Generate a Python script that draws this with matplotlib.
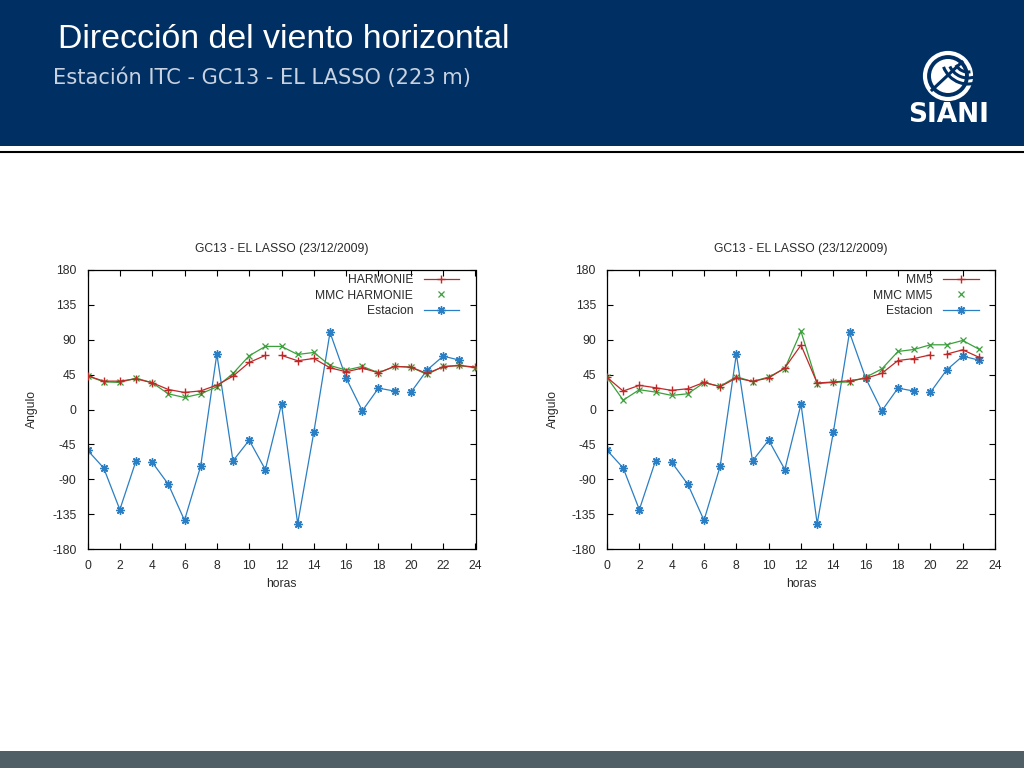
import numpy as np
import matplotlib
matplotlib.use("Agg")
import matplotlib.pyplot as plt
from matplotlib.lines import Line2D
from matplotlib.patches import Rectangle, Circle, Arc

# ---------------- data ----------------
hours_harmonie = list(range(25))
harmonie = [43.5, 36.6, 36.6, 39.6, 34.5, 25.8, 22.0, 24.0, 31.4, 43.0, 60.7, 69.8,
            69.8, 62.9, 65.9, 53.8, 48.7, 53.4, 47.4, 55.6, 54.7, 46.5, 55.1, 56.8, 54.7]
mmc_harmonie = [43.5, 35.7, 34.9, 40.5, 34.5, 20.2, 15.5, 20.2, 29.3, 46.5, 69.3, 81.4,
                81.4, 71.0, 73.6, 56.8, 50.8, 55.6, 47.4, 55.6, 54.7, 45.2, 55.6, 56.8, 53.8]
harmonie_gaps = [11]          # no line segment drawn after these hours

hours_mm5 = list(range(24))
mm5 = [41.5, 23.8, 31.2, 28.1, 24.7, 26.8, 35.0, 29.4, 40.7, 36.3, 40.7, 53.7,
       83.1, 34.2, 35.5, 37.2, 40.2, 46.7, 63.2, 65.8, 70.5, 71.4, 77.0, 67.5]
mmc_mm5 = [41.5, 12.1, 25.5, 22.5, 18.2, 20.3, 34.6, 29.9, 42.4, 35.9, 42.0, 52.8,
           100.8, 33.3, 35.0, 35.5, 41.5, 52.4, 74.9, 77.5, 83.5, 83.5, 89.1, 77.9]
mm5_gaps = [20]

hours_station = list(range(24))
estacion = [-52.5, -75.4, -129.2, -66.3, -68.0, -96.5, -143.0, -73.2, 71.5, -66.3, -39.6, -77.5,
            6.9, -147.3, -29.3, 99.5, 40.5, -1.7, 27.6, 23.7, 22.0, 50.8, 68.9, 63.7]
estacion_gaps = [3, 19]

xticks = list(range(0, 25, 2))
yticks = [-180, -135, -90, -45, 0, 45, 90, 135, 180]

chart_title = "GC13 - EL LASSO (23/12/2009)"

RED = "#c02828"
GREEN = "#3aa03a"
BLUE = "#2a7fc4"
TXT = "#2a2a2a"
NAVY = "#003063"

plt.rcParams["font.family"] = ["Liberation Sans", "DejaVu Sans"]
plt.rcParams["axes.unicode_minus"] = False

fig = plt.figure(figsize=(10.24, 7.68), dpi=100)

# background overlay in pixel coordinates
bg = fig.add_axes([0, 0, 1, 1], zorder=-5)
bg.set_xlim(0, 1024)
bg.set_ylim(768, 0)
bg.axis("off")
bg.add_patch(Rectangle((0, 0), 1024, 146, color=NAVY, lw=0))
bg.add_line(Line2D([0, 1024], [152, 152], color="black", lw=1.5))
bg.add_patch(Rectangle((0, 751), 1024, 17, color="#505e66", lw=0))

fig.text(58 / 1024, 1 - 39 / 768, "Dirección del viento horizontal", color="white",
         fontsize=24.4, va="center", ha="left")
fig.text(53 / 1024, 1 - 78 / 768, "Estación ITC - GC13 - EL LASSO (223 m)", color="#c8d2e0",
         fontsize=15.1, va="center", ha="left", family=["DejaVu Sans"])

# logo
lg = fig.add_axes([0, 0, 1, 1], zorder=5)
lg.set_xlim(0, 1024)
lg.set_ylim(768, 0)
lg.axis("off")
lg.add_patch(Circle((948, 76), 23, facecolor="none", edgecolor="white", lw=3))
lg.add_patch(Circle((948, 76), 17, facecolor="white", edgecolor="none"))
for r, t1, t2 in [(26, 200, 300), (20, 205, 290), (14, 210, 280)]:
    lg.add_patch(Arc((968, 58), 2 * r, 2 * r, theta1=-t2, theta2=-t1, color=NAVY, lw=2.2))
lg.add_line(Line2D([932, 962], [90, 62], color=NAVY, lw=2.2))
fig.text(949 / 1024, 1 - 115 / 768, "SIANI", color="white", fontsize=19, fontweight="bold",
         ha="center", va="center", family=["DejaVu Sans"])


def broken(x, y, gaps):
    xs, ys = [], []
    for i, (a, b) in enumerate(zip(x, y)):
        xs.append(a)
        ys.append(b)
        if i in gaps:
            xs.append(np.nan)
            ys.append(np.nan)
    return xs, ys


AST = (8, 2, 0)


def make_chart(rect, model_name, hx, model, mmc, gaps, ylabel_x):
    ax = fig.add_axes(rect)
    mx, my = broken(hx, model, gaps)
    gx, gy = broken(hx, mmc, [])
    sx, sy = broken(hours_station, estacion, estacion_gaps)
    ax.plot(mx, my, color=RED, lw=0.9, marker="+", ms=6, mew=1.0, zorder=4)
    ax.plot(gx, gy, color=GREEN, lw=0.9, marker="x", ms=4.5, mew=0.9, zorder=3)
    ax.plot(sx, sy, color=BLUE, lw=0.9, marker=AST, ms=6, mew=1.0, zorder=2)
    ax.set_xlim(0, 24)
    ax.set_ylim(-180, 180)
    ax.set_xticks(xticks)
    ax.set_yticks(yticks)
    ax.tick_params(direction="in", top=True, right=True, length=4, width=0.8,
                   labelsize=8.7, labelcolor=TXT, pad=8)
    for s in ax.spines.values():
        s.set_linewidth(0.9)
    ax.set_xlabel("horas", fontsize=8.7, color=TXT)
    ax.set_ylabel("Angulo", fontsize=8.7, color=TXT)
    ax.xaxis.set_label_coords(0.5, -0.105)
    ax.yaxis.set_label_coords(ylabel_x, 0.5)
    ax.set_title(chart_title, fontsize=8.7, color=TXT, pad=13)
    handles = [
        Line2D([], [], color=RED, lw=0.9, marker="+", ms=6, mew=1.0),
        Line2D([], [], color=GREEN, lw=0, marker="x", ms=4.5, mew=0.9),
        Line2D([], [], color=BLUE, lw=0.9, marker=AST, ms=6, mew=1.0),
    ]
    labels = [model_name, "MMC " + model_name, "Estacion"]
    ax.legend(handles, labels, loc="upper right", markerfirst=False, frameon=False,
              fontsize=8.7, labelcolor=TXT, handlelength=2.9, handletextpad=0.9,
              labelspacing=0.3, borderpad=0, borderaxespad=0,
              bbox_to_anchor=((459 - 87.5) / 388, 1 - 4 / 279), numpoints=1)
    return ax


make_chart([87.5 / 1024, 1 - 549 / 768, 388 / 1024, 279 / 768], "HARMONIE",
           hours_harmonie, harmonie, mmc_harmonie, harmonie_gaps, -0.127)
make_chart([607 / 1024, 1 - 549 / 768, 388 / 1024, 279 / 768], "MM5",
           hours_mm5, mm5, mmc_mm5, mm5_gaps, -0.124)

fig.savefig("out.png", dpi=100)
